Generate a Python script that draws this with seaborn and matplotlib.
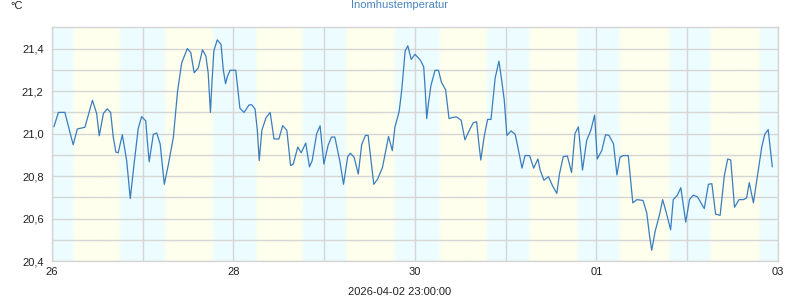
import numpy as np
import pandas as pd
import matplotlib
matplotlib.use("Agg")
import matplotlib.pyplot as plt
import seaborn as sns

# ---- data (hours since 2026-03-26 00:00, temperature in °C) ----
hours = [0.5, 1.7, 3.4, 5.6, 6.7, 7.9, 8.7, 10.7, 11.8, 12.5, 13.6, 14.6, 15.5, 16.2, 16.9, 17.5,
         18.6, 19.75, 20.7, 21.7, 22.8, 23.7, 24.8, 25.2, 25.7, 26.8, 27.7, 28.6, 29.7, 30.8, 32.1,
         33.2, 34.3, 35.8, 36.7, 37.6, 38.7, 39.8, 40.7, 41.3, 41.9, 42.3, 42.8, 43.7, 44.7, 45.3,
         45.9, 46.4, 47.1, 48.6, 49.7, 50.8, 52.1, 52.8, 53.7, 54.3, 54.8, 55.5, 56.6, 57.7, 58.7,
         60.0, 61.0, 62.1, 63.1, 63.8, 65.0, 65.9, 67.1, 68.1, 68.8, 70.0, 70.9, 71.9, 73.0, 73.9,
         74.8, 76.1, 77.1, 78.2, 78.9, 79.9, 81.0, 81.9, 82.9, 83.6, 85.1, 86.1, 87.4, 89.0, 90.0,
         90.7, 91.8, 92.5, 93.4, 94.1, 95.0, 96.0, 97.4, 98.3, 98.7, 99.1, 99.5, 100.2, 101.3, 102.2,
         103.0, 104.1, 105.0, 105.9, 107.0, 108.2, 109.2, 110.6, 111.4, 112.3, 112.9, 113.4, 114.3,
         115.2, 116.1, 117.2, 118.2, 118.9, 119.6, 120.3, 121.4, 122.5, 123.2, 124.3, 125.1, 126.3,
         127.4, 128.5, 129.1, 130.1, 131.3, 132.4, 133.5, 134.2, 135.2, 136.3, 137.4, 138.3, 139.2,
         140.3, 141.4, 142.5, 143.5, 144.2, 145.4, 146.4, 147.3, 148.5, 149.4, 150.2, 151.1, 152.4,
         153.6, 154.7, 156.3, 157.3, 158.0, 158.6, 159.5, 160.7, 161.5, 162.6, 163.6, 164.3, 165.4,
         166.3, 167.6, 168.6, 169.6, 170.7, 171.8, 172.5, 173.6, 174.5, 175.5, 176.7, 177.8, 178.7,
         179.5, 180.5, 181.7, 182.9, 183.7, 184.4, 185.5, 186.5, 187.7, 188.5, 189.4, 190.5]
temps = [21.032, 21.100, 21.100, 20.948, 21.022, 21.027, 21.030, 21.157, 21.095, 20.990, 21.095,
         21.117, 21.100, 20.984, 20.913, 20.910, 20.995, 20.873, 20.695, 20.857, 21.024, 21.080,
         21.060, 20.968, 20.868, 20.997, 21.003, 20.952, 20.762, 20.857, 20.984, 21.198, 21.333,
         21.400, 21.381, 21.286, 21.310, 21.394, 21.365, 21.286, 21.100, 21.238, 21.389, 21.441,
         21.420, 21.300, 21.235, 21.270, 21.298, 21.298, 21.119, 21.100, 21.135, 21.136, 21.116,
         21.016, 20.873, 21.016, 21.075, 21.100, 20.975, 20.975, 21.038, 21.016, 20.850, 20.857,
         20.937, 20.910, 20.956, 20.844, 20.873, 21.000, 21.037, 20.857, 20.944, 20.984, 20.984,
         20.873, 20.762, 20.892, 20.908, 20.889, 20.810, 20.949, 20.992, 20.992, 20.762, 20.786,
         20.841, 20.987, 20.920, 21.032, 21.103, 21.206, 21.389, 21.413, 21.349, 21.373, 21.346,
         21.314, 21.206, 21.071, 21.135, 21.225, 21.298, 21.298, 21.241, 21.206, 21.071, 21.076,
         21.079, 21.063, 20.971, 21.024, 21.051, 21.056, 20.952, 20.876, 20.987, 21.067, 21.067,
         21.262, 21.341, 21.254, 21.159, 20.992, 21.013, 20.997, 20.937, 20.838, 20.897, 20.897,
         20.838, 20.881, 20.829, 20.781, 20.798, 20.754, 20.719, 20.810, 20.892, 20.895, 20.817,
         21.000, 21.032, 20.829, 20.968, 21.016, 21.087, 20.881, 20.921, 20.995, 20.992, 20.952,
         20.806, 20.889, 20.897, 20.897, 20.675, 20.690, 20.686, 20.627, 20.524, 20.452, 20.540,
         20.622, 20.690, 20.619, 20.548, 20.690, 20.711, 20.746, 20.584, 20.690, 20.711, 20.703,
         20.670, 20.648, 20.762, 20.765, 20.622, 20.616, 20.802, 20.881, 20.876, 20.654, 20.690,
         20.690, 20.698, 20.770, 20.675, 20.794, 20.937, 20.997, 21.019, 20.844]

# day/night shading (hour of day for each date)
sunrise = [5.65, 5.85, 6.0, 5.85, 6.55, 6.35, 6.15, 6.25]
sunset = [17.95, 18.55, 18.35, 18.7, 19.05, 19.05, 19.35, 19.2]

x_labels = ["26", "", "28", "", "30", "", "01", "", "03"]
y_ticks = [20.4, 20.6, 20.8, 21.0, 21.2, 21.4]
y_labels = ["20,4", "20,6", "20,8", "21,0", "21,2", "21,4"]

title = "Inomhustemperatur"
unit = "°C"
footer = "2026-04-02 23:00:00"

# ---- figure ----
sns.set_style("white")
plt.rcParams['font.family'] = ['Liberation Sans', 'DejaVu Sans']

fig = plt.figure(figsize=(8, 3), dpi=100)
ax = fig.add_axes([52 / 800, 1 - 261.3 / 300, (778 - 52) / 800, (261.3 - 27.3) / 300])

x_max = 24 * (len(x_labels) - 1)
y_min, y_max = 20.4, 21.5

# background gradient
night = np.array([237, 253, 255]) / 255
day = np.array([254, 255, 237]) / 255
grid_x = np.linspace(0, x_max, 3000)
w = np.zeros_like(grid_x)
half = 0.45
for d, (r, s) in enumerate(zip(sunrise, sunset)):
    base = 24 * d
    up = np.clip((grid_x - (base + r - half)) / (2 * half), 0, 1)
    down = np.clip(((base + s + half) - grid_x) / (2 * half), 0, 1)
    w = np.maximum(w, np.minimum(up, down))
img = (night[None, :] * (1 - w[:, None]) + day[None, :] * w[:, None])[None, :, :]
ax.imshow(img, extent=[0, x_max, y_min, y_max], aspect='auto', zorder=0, interpolation='bilinear')

df = pd.DataFrame({"hour": hours, "temp": temps})
sns.lineplot(data=df, x="hour", y="temp", ax=ax, color="#3a7dbe", linewidth=0.9, zorder=3)

ax.set_xlim(0, x_max)
ax.set_ylim(y_min, y_max)
ax.set_xticks([24 * i for i in range(len(x_labels))])
ax.set_xticklabels(x_labels)
ax.set_yticks(y_ticks)
ax.set_yticklabels(y_labels)
ax.set_yticks(np.arange(20.5, 21.5, 0.2), minor=True)
ax.grid(True, which='both', color='#d6d6d6', linewidth=1.0, zorder=1)
ax.set_axisbelow(False)
for ln in ax.get_xgridlines() + ax.get_ygridlines():
    ln.set_zorder(1)
ax.tick_params(which='both', length=0, labelsize=8, colors='#222222')
ax.tick_params(axis='y', pad=6)
ax.tick_params(axis='x', pad=4)
ax.set_xlabel("")
ax.set_ylabel("")
for sp in ax.spines.values():
    sp.set_color('#d6d6d6')
    sp.set_linewidth(1.0)

fig.text(400 / 800, 1 - 5.5 / 300, title, ha='center', va='center', fontsize=8, color='#4a86c0')
fig.text(10 / 800, 1 - 6 / 300, unit, ha='left', va='center', fontsize=8, color='#222222')
fig.text(400 / 800, 1 - 292 / 300, footer, ha='center', va='center', fontsize=8, color='#222222')

fig.savefig("out.png", dpi=100)
